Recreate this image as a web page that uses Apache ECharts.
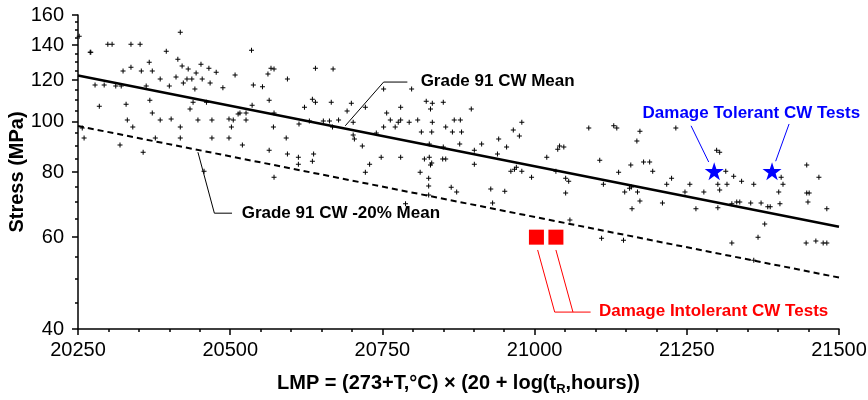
<!DOCTYPE html>
<html>
<head>
<meta charset="utf-8">
<script src="https://cdn.jsdelivr.net/npm/echarts@6/dist/echarts.min.js"></script>
<style>
html,body{margin:0;padding:0;background:#fff}
#chart{width:868px;height:400px}
</style>
</head>
<body>
<div id="chart"></div>
<script>
// creep rupture tests, Grade 91 CW (LMP, stress MPa)
var testLmp = [
    20252,20270,20271,20299,20306,20337,20352,20418,20395,20367,
    20414,20421,20431,20452,20444,20465,20477,20535,20562,20567,
    20572,20337,20324,20354,20372,20411,20423,20429,20437,20454,
    20467,20488,20508,20538,20553,20594,20278,20293,20312,20321,
    20362,20385,20400,20442,20285,20329,20368,20372,20434,20439,
    20461,20536,20564,20572,20331,20340,20385,20403,20447,20470,
    20498,20505,20513,20516,20526,20526,20613,20257,20260,20319,
    20357,20377,20418,20418,20470,20502,20498,20520,20571,20564,
    20592,20594,20612,20612,20457,20572,
    20640,20669,20622,20635,20640,20666,20699,20692,20722,20752,
    20798,20757,20780,20822,20832,20850,20829,20896,20630,20653,
    20663,20678,20668,20702,20702,20704,20717,20740,20763,20776,
    20780,20752,20771,20794,20808,20832,20868,20878,20854,20814,
    20831,20865,20880,20877,20913,20941,20954,20965,20979,20975,
    20939,20901,20850,20827,20637,20635,20729,20722,20748,20780,
    20819,20827,20831,20829,20849,20854,20812,20826,20826,20863,
    20872,20901,20928,20951,20961,20967,20970,20979,20995,21020,
    21041,21048,21038,21035,21051,21056,21051,
    20826,20788,20931,21058,
    21089,21130,21135,21173,21168,21232,21107,21158,21179,21189,
    21138,21194,21225,21217,21255,21299,21304,21314,21327,21340,
    21360,21301,21316,21304,21247,21278,21405,21408,21401,21447,
    21467,21447,21451,21113,21148,21156,21159,21169,
    21173,21160,21210,21265,21301,21332,21337,21324,21355,21372,
    21383,21387,21403,21378,21367,21324,21449,21480,21446,21462,
    21474,21480,21110,21146,21360
];
var testStress = [
    145.7,135.7,135.7,140.6,140.6,140.6,140.6,148.3,136.3,129.9,
    131.6,127.7,126.0,128.8,123.8,126.5,124.3,136.9,123.3,126.5,
    126.0,127.1,124.9,124.9,124.9,121.7,118.5,120.6,120.6,120.6,
    118.5,116.0,122.7,117.5,116.5,120.6,117.5,117.5,117.0,117.0,
    117.0,120.6,117.0,115.4,107.0,107.9,109.8,103.8,105.6,108.8,
    108.8,107.4,109.8,103.8,100.6,97.6,100.6,101.1,100.6,100.6,
    101.1,100.6,103.3,103.8,103.8,100.6,98.9,97.1,93.0,90.1,
    87.3,93.0,97.6,93.0,93.0,97.6,93.0,90.1,97.6,88.1,
    93.0,86.6,85.4,82.8,80.3,78.2,
    126.5,126.0,106.5,110.3,108.8,108.8,108.4,104.7,106.5,115.4,
    115.4,103.8,106.5,109.3,108.4,108.8,105.6,105.6,100.2,100.2,
    100.2,100.6,97.6,99.7,94.2,92.5,89.7,95.0,100.6,99.7,
    100.6,97.6,97.6,99.7,100.6,99.7,100.6,100.6,97.6,95.4,
    95.4,95.4,95.4,90.5,90.5,92.5,89.3,96.3,99.7,93.8,
    86.6,88.1,89.3,90.5,86.6,83.9,82.8,79.9,85.4,85.4,
    84.7,85.4,83.2,82.5,84.7,84.7,79.9,77.8,75.2,74.8,
    73.2,82.8,74.2,73.5,80.3,81.0,81.7,80.3,78.2,85.4,
    89.7,89.3,88.5,80.3,77.8,76.8,72.9,
    72.3,69.5,69.8,64.7,
    97.1,98.1,97.1,95.8,91.7,97.1,84.3,82.5,83.6,83.6,
    79.9,80.3,77.8,75.8,75.8,88.1,87.3,80.3,78.5,76.8,
    75.8,75.8,75.8,73.9,73.2,73.2,78.2,75.8,73.2,82.5,
    78.2,72.9,72.9,75.8,73.2,74.5,74.9,73.2,
    70.4,68.0,69.8,68.0,68.3,70.1,70.1,69.5,69.8,69.8,
    68.6,68.6,69.5,63.6,60.0,58.5,70.1,68.0,58.5,59.0,
    58.5,58.5,59.7,59.2,54.2
];

// mean curve and -20% curve (end points)
var meanCurve = [[20250, 122.5], [21500, 62.8]];
var lowCurve = [[20250, 98.0], [21500, 50.2]];

// special tests
var tolerantTests = [[21295, 80.3], [21390, 80.3]];
var intolerantTests = [[21003, 60.0], [21035, 60.0]];

// axis ticks
var xTicks = { min: 20250, max: 21500, step: 250 };
var yLabels = [40, 60, 80, 100, 120, 140, 160];
var yMinor = [45, 50, 55, 65, 70, 75, 85, 90, 95, 105, 110, 115, 125, 130, 135, 145, 150, 155];

// annotations: leader lines and text (data coords)
var meanLeader = [[20689, 98.1], [20752, 119.0], [20791, 119.0]];
var lowLeader = [[20447, 87.3], [20474, 66.7], [20503, 66.7]];
var tolerantLeaders = [[[21257, 98.1], [21286, 83.6]], [[21418, 98.9], [21396, 83.9]]];
var intolerantLeaders = [[[21005, 56.7], [21033, 43.1], [21092, 43.1]], [[21035, 56.7], [21063, 43.1]]];
var notes = [
    { text: 'Grade 91 CW Mean', at: [20812, 119.3], color: '#000', pos: 'right' },
    { text: 'Grade 91 CW -20% Mean', at: [20518, 66.7], color: '#000', pos: 'right' },
    { text: 'Damage Tolerant CW Tests', at: [21356, 103.8], color: '#0000ff', pos: 'inside' },
    { text: 'Damage Intolerant CW Tests', at: [21105, 43.2], color: '#ff0000', pos: 'right' }
];

var FONT = 'Liberation Sans';
var crossPath = 'path://M2,0h1v2h2v1h-2v2h-1v-2h-2v-1h2z';
var starPath = 'path://M50,0L61,35L98,35L68,57L79,91L50,70L21,91L32,57L2,35L39,35Z';

var points = testLmp.map(function (v, i) { return [v, testStress[i]]; });

function leader(data, color) {
    return {
        type: 'line', data: data, symbol: 'none', silent: true, z: 1,
        lineStyle: { color: color, width: 1 }
    };
}

var series = [
    {
        type: 'scatter', data: points, symbol: crossPath, symbolSize: 5,
        itemStyle: { color: '#000', opacity: 1 }
    },
    {
        type: 'line', data: meanCurve, symbol: 'none',
        lineStyle: { color: '#000', width: 2.5 }
    },
    {
        type: 'line', data: lowCurve, symbol: 'none',
        lineStyle: { color: '#000', width: 2, type: [6, 4] }
    },
    leader(meanLeader, '#000'),
    leader(lowLeader, '#000')
];
tolerantLeaders.forEach(function (d) { series.push(leader(d, '#0000ff')); });
intolerantLeaders.forEach(function (d) { series.push(leader(d, '#ff0000')); });
series.push({
    type: 'scatter', data: tolerantTests, symbol: starPath, symbolSize: [19, 18], z: 5,
    itemStyle: { color: '#0000ff', opacity: 1 }
});
series.push({
    type: 'scatter', data: intolerantTests, symbol: 'rect', symbolSize: 15, z: 5,
    itemStyle: { color: '#ff0000', opacity: 1 }
});
notes.forEach(function (n) {
    series.push({
        type: 'scatter', silent: true, symbolSize: 1, z: 6,
        itemStyle: { color: 'transparent', opacity: 1 },
        data: [{ value: n.at, name: n.text }],
        label: {
            show: true, position: n.pos, distance: 0, formatter: '{b}',
            color: n.color, fontFamily: FONT, fontWeight: 'bold', fontSize: 17
        }
    });
});

var myChart = echarts.init(document.getElementById('chart'));
myChart.setOption({
    animation: false,
    backgroundColor: '#fff',
    grid: { left: 78, right: 29, top: 15, bottom: 71, outerBoundsMode: 'none', containLabel: false },
    xAxis: {
        type: 'value', min: xTicks.min, max: xTicks.max, interval: xTicks.step,
        name: 'LMP = (273+T,°C) × (20 + log(t{sub|R},hours))',
        nameLocation: 'middle', nameGap: 42, nameMoveOverlap: false,
        nameTextStyle: {
            fontFamily: FONT, fontWeight: 'bold', fontSize: 20, color: '#000',
            rich: { sub: { fontFamily: FONT, fontWeight: 'bold', fontSize: 13, verticalAlign: 'top', padding: [12, 0, 0, 0] } }
        },
        axisLine: { lineStyle: { color: '#000', width: 1.5 } },
        axisTick: { length: 6, lineStyle: { color: '#000', width: 1.5 } },
        minorTick: { show: true, splitNumber: 5, length: 3, lineStyle: { color: '#000', width: 1.5 } },
        axisLabel: {
            margin: 11, fontFamily: FONT, fontSize: 20, color: '#000',
            formatter: function (v) { return String(v); }
        },
        splitLine: { show: false }
    },
    yAxis: [
        {
            type: 'log', min: 40, max: 160,
            name: 'Stress (MPa)', nameLocation: 'middle', nameGap: 51, nameMoveOverlap: false,
            nameTextStyle: { fontFamily: FONT, fontWeight: 'bold', fontSize: 20, color: '#000' },
            axisLine: { show: true, lineStyle: { color: '#000', width: 1.5 } },
            axisTick: { show: true, length: 6, customValues: yLabels, lineStyle: { color: '#000', width: 1.5 } },
            axisLabel: {
                margin: 14, fontFamily: FONT, fontSize: 20, color: '#000', customValues: yLabels,
                formatter: function (v) { return String(Math.round(v)); }
            },
            splitLine: { show: false }
        },
        {
            type: 'log', min: 40, max: 160, position: 'left',
            axisLine: { show: false },
            axisTick: { show: true, length: 3, customValues: yMinor, lineStyle: { color: '#000', width: 1.5 } },
            axisLabel: { show: false },
            splitLine: { show: false }
        }
    ],
    series: series
});
</script>
</body>
</html>
